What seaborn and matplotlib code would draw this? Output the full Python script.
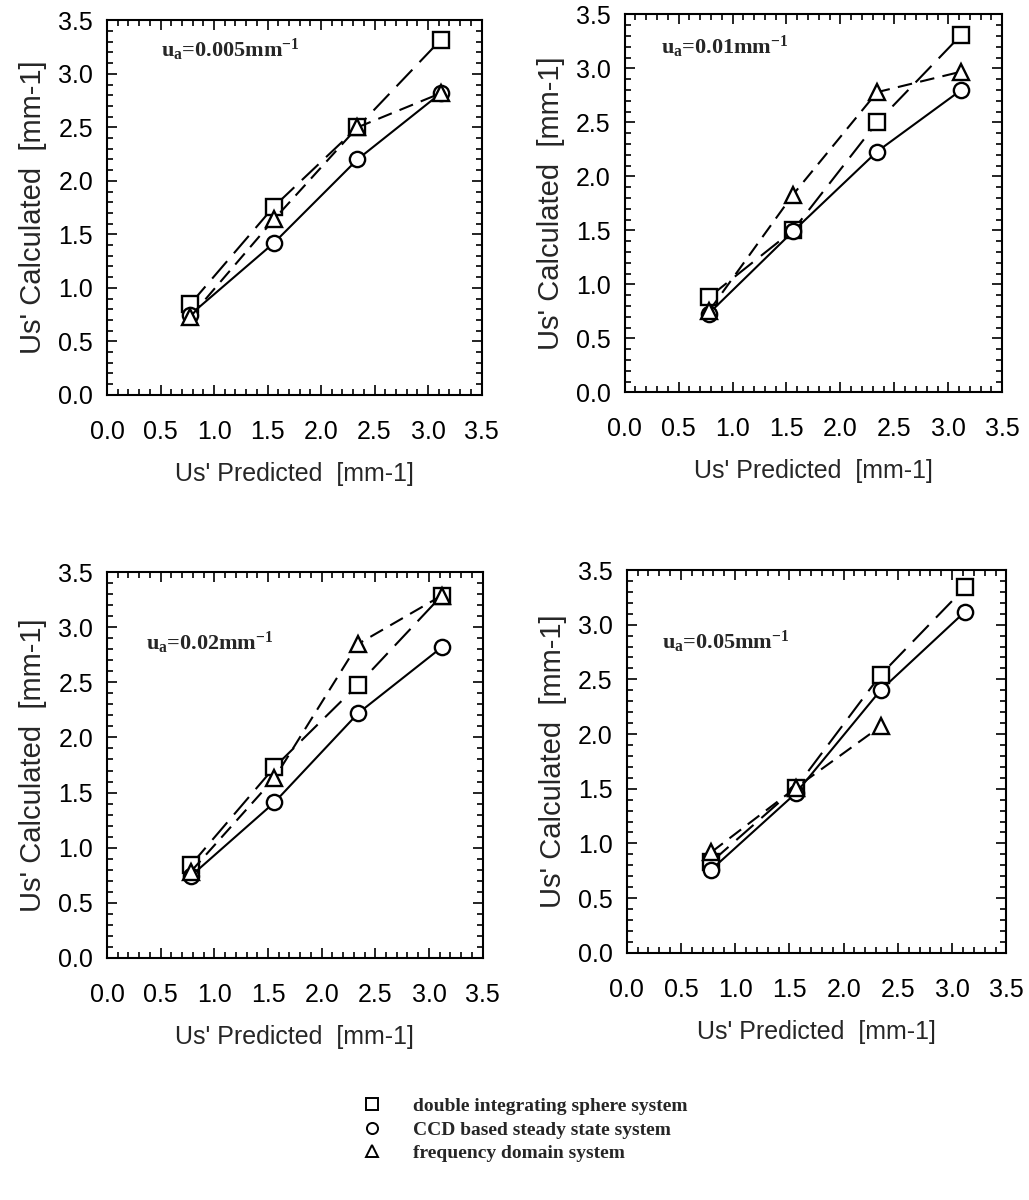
import numpy as np
import pandas as pd
import matplotlib
matplotlib.use('Agg')
import matplotlib.pyplot as plt
from matplotlib.lines import Line2D
from matplotlib.ticker import MultipleLocator
import seaborn as sns

sns.set_style('ticks')
plt.rcParams['font.family'] = ['Liberation Sans', 'DejaVu Sans']
plt.rcParams['mathtext.fontset'] = 'custom'
plt.rcParams['mathtext.rm'] = 'Liberation Serif:bold'
plt.rcParams['mathtext.it'] = 'Liberation Serif:bold'
plt.rcParams['mathtext.bf'] = 'Liberation Serif:bold'

# Data
us_pred = [0.78, 1.56, 2.34, 3.12]
systems = ['double integrating sphere system',
           'CCD based steady state system',
           'frequency domain system']

titles = [r'u$_\mathrm{a}$=0.005mm$^\mathrm{-1}$',
          r'u$_\mathrm{a}$=0.01mm$^\mathrm{-1}$',
          r'u$_\mathrm{a}$=0.02mm$^\mathrm{-1}$',
          r'u$_\mathrm{a}$=0.05mm$^\mathrm{-1}$']

sphere = [[0.85, 1.76, 2.50, 3.32],
          [0.88, 1.50, 2.50, 3.31],
          [0.84, 1.73, 2.48, 3.29],
          [0.83, 1.51, 2.54, 3.34]]
ccd = [[0.75, 1.42, 2.20, 2.82],
       [0.73, 1.49, 2.23, 2.80],
       [0.74, 1.41, 2.22, 2.82],
       [0.76, 1.46, 2.40, 3.12]]
freq = [[0.73, 1.64, 2.50, 2.82],
        [0.75, 1.83, 2.78, 2.97],
        [0.78, 1.63, 2.85, 3.29],
        [0.92, 1.51, 2.07, np.nan]]

# layout (figure fractions) and annotation spots
positions = [[0.104, 0.671, 0.364, 0.312],
             [0.607, 0.673, 0.367, 0.315],
             [0.104, 0.202, 0.365, 0.321],
             [0.609, 0.206, 0.369, 0.319]]
label_xy = [(0.50, 3.22), (0.34, 3.20), (0.36, 2.86), (0.33, 2.84)]

markers = {systems[0]: 's', systems[1]: 'o', systems[2]: '^'}
dashes = {systems[0]: (11, 5), systems[1]: '', systems[2]: (7, 4)}

fig = plt.figure(figsize=(10.29, 12), dpi=100)

for i in range(4):
    rows = []
    for name, vals in zip(systems, [sphere[i], ccd[i], freq[i]]):
        for xv, yv in zip(us_pred, vals):
            if not np.isnan(yv):
                rows.append({'x': xv, 'y': yv, 'system': name})
    df = pd.DataFrame(rows)

    ax = fig.add_axes(positions[i])
    sns.lineplot(data=df, x='x', y='y', style='system', markers=markers,
                 dashes=dashes, color='black', lw=1.5, ms=11,
                 mfc='white', mec='black', mew=1.7, legend=False, ax=ax,
                 sort=False)

    ax.set_xlim(0, 3.5)
    ax.set_ylim(0, 3.5)
    ax.xaxis.set_major_locator(MultipleLocator(0.5))
    ax.yaxis.set_major_locator(MultipleLocator(0.5))
    ax.xaxis.set_minor_locator(MultipleLocator(0.1))
    ax.yaxis.set_minor_locator(MultipleLocator(0.1))
    ax.tick_params(which='both', direction='in', top=True, right=True,
                   width=1.2, colors='black', labelsize=18)
    ax.tick_params(which='major', length=7)
    ax.tick_params(which='minor', length=4)
    ax.tick_params(axis='x', which='major', pad=18)
    ax.tick_params(axis='y', which='major', pad=10)
    for sp in ax.spines.values():
        sp.set_linewidth(1.5)
        sp.set_color('black')

    ax.set_xlabel("Us' Predicted  [mm-1]", fontsize=18, labelpad=13)
    ax.set_ylabel("Us' Calculated  [mm-1]", fontsize=21, labelpad=8)
    ax.text(label_xy[i][0], label_xy[i][1], titles[i], fontsize=16,
            family='Liberation Serif', fontweight='bold',
            ha='left', va='center')

handles = [Line2D([], [], ls='none', marker=markers[s], ms=8, mfc='white',
                  mec='black', mew=1.4) for s in systems]
fig.legend(handles, systems, loc='upper left', bbox_to_anchor=(0.335, 0.1),
           frameon=False, handlelength=1.0, handletextpad=1.6,
           labelspacing=0.3, prop={'family': 'Liberation Serif',
                                   'weight': 'bold', 'size': 14})

fig.savefig('out.png', dpi=100)
